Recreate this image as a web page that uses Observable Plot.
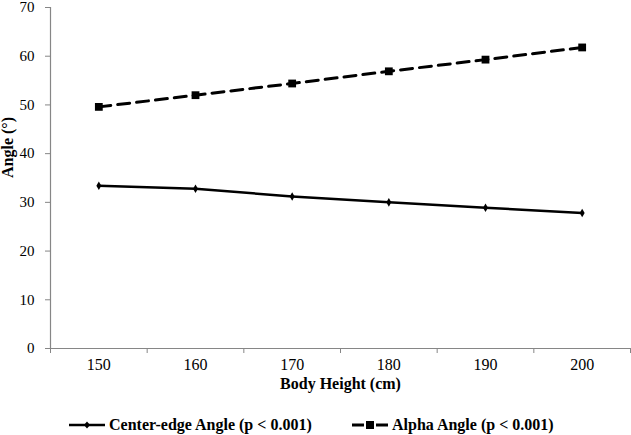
<!DOCTYPE html>
<html><head><meta charset="utf-8">
<script src="https://cdn.jsdelivr.net/npm/d3@7"></script>
<script src="https://cdn.jsdelivr.net/npm/@observablehq/plot@0.6"></script>
<style>
body{margin:0;background:#fff;font-family:'Liberation Serif';}
#chart svg{display:block;}
#chart svg, #chart svg text{font-family:'Liberation Serif' !important;}
#legend{position:relative;height:30px;padding-top:5px;width:631px;font-family:'Liberation Serif';}
.item{position:absolute;top:5px;height:30px;display:flex;align-items:center;font-weight:bold;font-size:16px;color:#000;white-space:nowrap;font-family:'Liberation Serif';}
.item svg{margin-right:4px;}
</style></head><body>
<div id="chart"></div>
<div id="legend"></div>
<script>
const heights = [150, 160, 170, 180, 190, 200];
const centerEdge = [33.4, 32.8, 31.2, 30.0, 28.9, 27.8];
const alpha = [49.6, 52.0, 54.4, 56.9, 59.3, 61.8];
const yTicks = [0, 10, 20, 30, 40, 50, 60, 70];
const seriesNames = ["Center-edge Angle (p < 0.001)", "Alpha Angle (p < 0.001)"];
const xLabel = "Body Height (cm)";
const yLabel = "Angle (°)";

const ce = heights.map((h, i) => ({h, v: centerEdge[i]}));
const al = heights.map((h, i) => ({h, v: alpha[i]}));
const step = heights[1] - heights[0];
const bounds = heights.map(h => h - step / 2).concat([heights[heights.length - 1] + step / 2]);
const axisGray = "#868686";
const serif = "'Liberation Serif'";

const chart = Plot.plot({
  width: 631, height: 405,
  marginLeft: 50, marginRight: 1, marginTop: 7, marginBottom: 57,
  style: {fontFamily: serif, fontSize: "16px", color: "#000", background: "#fff"},
  x: {domain: [bounds[0], bounds[bounds.length - 1]]},
  y: {domain: [0, 70]},
  marks: [
    Plot.axisY({ticks: yTicks, tickSize: 5, stroke: axisGray, tickPadding: 11, label: null, fontSize: 15, fill: "#000", fontFamily: serif}),
    Plot.axisX({ticks: bounds, tickSize: 5, tickFormat: () => "", stroke: axisGray, label: null}),
    Plot.axisX({ticks: heights, tickSize: 0, tickPadding: 10, label: null, fontSize: 16, fill: "#000", fontFamily: serif}),
    Plot.ruleX([bounds[0]], {stroke: axisGray, strokeWidth: 1.2}),
    Plot.ruleY([0], {stroke: axisGray, strokeWidth: 1.2}),
    Plot.text([yLabel], {text: d => d, frameAnchor: "left", rotate: -90, dx: -43, fontWeight: "bold", fontSize: 16, fill: "#000", fontFamily: serif}),
    Plot.text([xLabel], {text: d => d, frameAnchor: "bottom", dy: 40, fontWeight: "bold", fontSize: 16, fill: "#000", fontFamily: serif}),
    Plot.line(ce, {x: "h", y: "v", stroke: "#000", strokeWidth: 2.5}),
    Plot.dot(ce, {x: "h", y: "v", symbol: "diamond", r: 2.6, fill: "#000", stroke: "none"}),
    Plot.line(al, {x: "h", y: "v", stroke: "#000", strokeWidth: 3, strokeDasharray: "12,7"}),
    Plot.dot(al, {x: "h", y: "v", symbol: "square", r: 4.4, fill: "#000", stroke: "none"})
  ]
});
document.getElementById("chart").appendChild(chart);

const legend = document.getElementById("legend");
const swatches = [
  `<svg width="36" height="12"><line x1="0" y1="6" x2="36" y2="6" stroke="#000" stroke-width="2.5"/><path d="M18,2.5L21,6L18,9.5L15,6Z" fill="#000"/></svg>`,
  `<svg width="36" height="12"><line x1="0" y1="6" x2="12" y2="6" stroke="#000" stroke-width="3"/><line x1="24" y1="6" x2="36" y2="6" stroke="#000" stroke-width="3"/><rect x="14" y="2" width="8" height="8" fill="#000"/></svg>`
];
const lefts = [69, 352];
seriesNames.forEach((name, i) => {
  const d = document.createElement("div");
  d.className = "item";
  d.style.left = lefts[i] + "px";
  d.innerHTML = swatches[i] + `<span>${name.replace(/</g, "&lt;")}</span>`;
  legend.appendChild(d);
});
</script>
</body></html>
